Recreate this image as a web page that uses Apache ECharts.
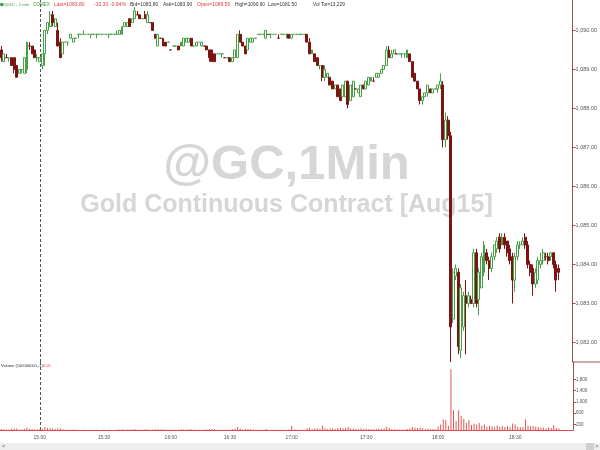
<!DOCTYPE html>
<html><head><meta charset="utf-8">
<script src="https://cdn.jsdelivr.net/npm/echarts@6/dist/echarts.min.js"></script>
<style>html,body{margin:0;padding:0;background:#fff}#c{width:600px;height:450px}</style>
</head><body><div id="c"></div>
<script>
// ---- data (1-minute bars, times with trades only) ----
const times = [
 '14:45','14:46','14:47','14:48','14:49','14:50','14:51','14:52','14:53','14:54','14:55','14:56','14:57','14:58','14:59',
 '15:00','15:01','15:02','15:03','15:04','15:05','15:06','15:07','15:08','15:09','15:10','15:11','15:12','15:13','15:14',
 '15:15','15:17','15:18','15:20','15:22','15:23','15:25','15:26','15:28','15:29',
 '15:30','15:32','15:34','15:35','15:37','15:39','15:40','15:41','15:42','15:43','15:44','15:45','15:46','15:47','15:48','15:49',
 '15:50','15:51','15:52','15:53','15:54','15:55','15:56','15:57','15:58','15:59',
 '16:00','16:01','16:02','16:03','16:05','16:06','16:07','16:09','16:10','16:11','16:12','16:14','16:15','16:16','16:18','16:19',
 '16:21','16:22','16:24','16:25','16:27','16:28','16:29',
 '16:30','16:31','16:32','16:33','16:34','16:35','16:36','16:37','16:38','16:39','16:40','16:41','16:42',
 '16:44','16:45','16:47','16:48','16:50','16:51','16:53','16:54','16:56','16:58','16:59',
 '17:00','17:01','17:02','17:04','17:05','17:06','17:07','17:08','17:09','17:10','17:11','17:12','17:13','17:14','17:15','17:16',
 '17:17','17:18','17:19','17:20','17:21','17:22','17:23','17:24','17:25','17:26','17:27','17:28','17:29',
 '17:30','17:31','17:32','17:33','17:34','17:35','17:36','17:37','17:38','17:39','17:40','17:41','17:42','17:43',
 '17:45','17:46','17:48','17:49','17:50','17:51','17:52','17:53','17:54','17:55','17:56','17:57','17:58','17:59',
 '18:00','18:01','18:02','18:03','18:04','18:05','18:06','18:07','18:08','18:09','18:10','18:11','18:12','18:13','18:14','18:15',
 '18:16','18:17','18:18','18:19','18:20','18:21','18:22','18:23','18:24','18:25','18:26','18:27','18:28','18:29',
 '18:30','18:31','18:32','18:33','18:34','18:35','18:36','18:37','18:38','18:39','18:40','18:41','18:42','18:43','18:44','18:45',
 '18:46','18:47'
];
// [open, close, low, high]
const ohlc = [
 [1089.5,1089.3,1089.2,1089.6],[1089.2,1089.4,1089.2,1089.4],[1089.3,1089.3,1089.3,1089.4],[1089.3,1089.3,1089.2,1089.3],
 [1089.3,1089.1,1089.1,1089.3],[1089.3,1089.0,1088.9,1089.3],[1089.1,1088.8,1088.8,1089.1],[1088.9,1089.0,1088.9,1089.0],
 [1089.0,1089.0,1088.9,1089.0],[1088.9,1089.3,1088.9,1089.3],[1089.0,1089.7,1088.9,1089.7],[1089.6,1089.6,1089.5,1089.7],
 [1089.6,1089.4,1089.4,1089.6],[1089.5,1089.3,1089.3,1089.5],[1089.3,1089.3,1089.2,1089.4],
 [1089.2,1089.3,1089.2,1089.3],[1089.1,1089.4,1089.0,1089.4],[1089.4,1090.0,1089.1,1090.0],[1090.0,1090.2,1089.9,1090.2],
 [1090.1,1090.4,1090.1,1090.5],[1090.4,1090.2,1090.1,1090.5],[1090.1,1090.3,1090.1,1090.3],[1090.0,1089.6,1089.6,1090.2],
 [1089.7,1089.3,1089.3,1089.8],[1089.4,1089.7,1089.4,1089.7],[1089.7,1089.7,1089.7,1089.7],[1089.7,1089.7,1089.6,1089.7],
 [1089.8,1089.9,1089.8,1089.9],[1089.7,1089.8,1089.7,1089.8],[1089.8,1089.8,1089.8,1089.8],
 [1089.9,1089.9,1089.8,1089.9],[1089.9,1089.9,1089.9,1089.9],[1089.9,1089.9,1089.9,1090.0],[1089.9,1089.9,1089.9,1089.9],
 [1089.9,1089.9,1089.9,1089.9],[1089.9,1089.9,1089.8,1089.9],[1089.9,1089.9,1089.9,1089.9],[1089.9,1089.9,1089.8,1089.9],
 [1089.9,1089.9,1089.9,1089.9],[1089.9,1089.9,1089.9,1089.9],[1089.9,1089.9,1089.9,1089.9],[1089.9,1089.9,1089.9,1089.9],
 [1089.9,1089.9,1089.8,1089.9],[1089.9,1089.9,1089.9,1089.9],[1089.9,1089.9,1089.9,1089.9],[1089.9,1089.9,1089.9,1090.0],
 [1089.9,1090.0,1089.9,1090.0],[1089.9,1090.1,1089.9,1090.1],[1090.1,1090.2,1090.1,1090.2],[1090.1,1090.2,1090.1,1090.2],
 [1090.3,1090.1,1090.1,1090.3],[1090.2,1090.3,1090.2,1090.3],[1090.3,1090.5,1090.3,1090.6],[1090.4,1090.4,1090.4,1090.5],
 [1090.4,1090.3,1090.3,1090.4],[1090.3,1090.3,1090.3,1090.3],[1090.4,1090.3,1090.3,1090.5],[1090.2,1090.4,1090.2,1090.5],
 [1090.2,1090.2,1090.2,1090.2],[1090.2,1090.0,1090.0,1090.2],[1089.9,1089.8,1089.8,1089.9],[1089.6,1089.9,1089.6,1089.9],
 [1089.8,1089.8,1089.8,1089.8],[1089.8,1089.6,1089.6,1089.8],[1089.7,1089.6,1089.6,1089.7],[1089.7,1089.7,1089.7,1089.7],
 [1089.5,1089.5,1089.5,1089.5],[1089.6,1089.6,1089.6,1089.6],[1089.6,1089.6,1089.6,1089.6],[1089.6,1089.5,1089.5,1089.6],
 [1089.6,1089.7,1089.6,1089.7],[1089.6,1089.8,1089.6,1089.8],[1089.7,1089.8,1089.7,1089.8],[1089.7,1089.8,1089.7,1089.8],
 [1089.8,1089.6,1089.6,1089.8],[1089.6,1089.6,1089.6,1089.6],[1089.6,1089.7,1089.6,1089.7],[1089.7,1089.7,1089.7,1089.7],
 [1089.6,1089.7,1089.6,1089.7],[1089.6,1089.6,1089.6,1089.6],[1089.6,1089.5,1089.5,1089.6],[1089.5,1089.3,1089.2,1089.5],
 [1089.5,1089.2,1089.2,1089.5],[1089.4,1089.2,1089.2,1089.4],[1089.4,1089.4,1089.4,1089.4],[1089.4,1089.4,1089.4,1089.4],
 [1089.4,1089.4,1089.3,1089.4],[1089.3,1089.3,1089.3,1089.3],[1089.3,1089.3,1089.3,1089.3],
 [1089.3,1089.2,1089.2,1089.3],[1089.2,1089.3,1089.2,1089.3],[1089.3,1089.5,1089.3,1089.5],[1089.3,1089.9,1089.3,1089.9],
 [1089.9,1089.7,1089.7,1090.0],[1089.7,1089.6,1089.6,1089.7],[1089.6,1089.4,1089.4,1089.6],[1089.5,1089.8,1089.5,1089.8],
 [1089.7,1089.8,1089.7,1089.8],[1089.7,1089.8,1089.7,1089.8],[1089.8,1089.8,1089.8,1089.8],[1089.9,1089.9,1089.9,1089.9],
 [1089.9,1089.9,1089.9,1089.9],[1089.9,1089.9,1089.9,1089.9],[1089.8,1090.0,1089.8,1090.0],[1089.9,1089.9,1089.9,1089.9],
 [1089.9,1089.9,1089.8,1089.9],[1089.9,1089.9,1089.9,1089.9],[1089.9,1089.9,1089.9,1089.9],[1089.8,1089.8,1089.8,1089.9],
 [1089.9,1089.9,1089.9,1089.9],[1089.9,1089.9,1089.9,1089.9],[1089.9,1089.9,1089.8,1089.9],[1089.9,1089.8,1089.8,1089.9],
 [1089.8,1089.9,1089.8,1089.9],[1089.9,1089.9,1089.9,1089.9],[1089.9,1089.9,1089.9,1089.9],[1089.9,1089.9,1089.9,1089.9],
 [1089.9,1089.9,1089.9,1089.9],[1089.9,1089.9,1089.9,1089.9],[1089.9,1089.7,1089.7,1089.9],[1089.7,1089.4,1089.4,1089.8],
 [1089.4,1089.5,1089.4,1089.5],[1089.4,1089.2,1089.2,1089.4],[1089.3,1089.1,1089.1,1089.3],[1089.1,1089.1,1089.0,1089.1],
 [1089.1,1088.8,1088.7,1089.1],[1088.8,1089.0,1088.7,1089.1],[1088.8,1088.9,1088.8,1088.9],[1088.8,1088.6,1088.6,1088.8],
 [1088.7,1088.5,1088.5,1088.7],[1088.5,1088.6,1088.5,1088.6],[1088.6,1088.3,1088.3,1088.6],[1088.5,1088.2,1088.2,1088.5],
 [1088.3,1088.6,1088.3,1088.6],[1088.3,1088.7,1088.3,1088.7],[1088.7,1088.1,1088.0,1088.7],[1088.2,1088.6,1088.2,1088.6],
 [1088.3,1088.7,1088.3,1088.7],[1088.5,1088.5,1088.5,1088.5],[1088.4,1088.5,1088.4,1088.5],[1088.3,1088.6,1088.3,1088.6],
 [1088.6,1088.5,1088.5,1088.6],
 [1088.5,1088.7,1088.5,1088.7],[1088.6,1088.8,1088.6,1088.8],[1088.7,1088.8,1088.7,1088.8],[1088.7,1088.7,1088.7,1088.8],
 [1088.8,1088.9,1088.8,1088.9],[1088.8,1088.9,1088.8,1088.9],[1088.9,1089.0,1088.9,1089.0],[1089.0,1089.1,1089.0,1089.1],
 [1089.1,1089.5,1089.1,1089.6],[1089.5,1089.3,1089.3,1089.6],[1089.3,1089.4,1089.3,1089.5],[1089.4,1089.5,1089.4,1089.5],
 [1089.4,1089.4,1089.4,1089.4],[1089.4,1089.4,1089.4,1089.4],[1089.4,1089.4,1089.3,1089.4],[1089.4,1089.4,1089.3,1089.4],
 [1089.3,1089.5,1089.3,1089.5],[1089.4,1089.2,1089.2,1089.4],[1089.2,1088.8,1088.8,1089.2],[1088.9,1088.7,1088.7,1088.9],
 [1088.7,1088.5,1088.5,1088.7],[1088.5,1088.2,1088.1,1088.5],[1088.2,1088.3,1088.1,1088.3],[1088.3,1088.4,1088.3,1088.4],
 [1088.4,1088.6,1088.3,1088.6],[1088.5,1088.4,1088.4,1088.5],[1088.4,1088.5,1088.4,1088.5],[1088.5,1088.5,1088.5,1088.5],
 [1088.5,1088.6,1088.4,1088.6],[1088.6,1088.7,1088.5,1088.9],[1088.6,1087.2,1087.0,1088.7],[1087.2,1087.7,1087.0,1087.9],
 [1087.7,1087.3,1087.2,1087.8],[1087.3,1082.4,1081.5,1087.4],[1082.6,1083.8,1082.5,1083.9],[1083.7,1083.9,1083.6,1084.0],
 [1083.8,1081.9,1081.7,1083.9],[1081.8,1083.4,1081.6,1083.5],[1082.4,1083.2,1082.3,1083.3],[1083.2,1083.0,1081.7,1083.6],
 [1083.0,1083.2,1082.9,1083.3],[1083.1,1083.0,1083.0,1083.2],[1083.0,1084.3,1082.9,1084.4],[1084.3,1083.0,1082.9,1084.4],
 [1083.1,1083.8,1082.7,1083.9],[1083.4,1084.2,1083.4,1084.3],[1083.8,1084.5,1083.7,1084.6],[1084.3,1084.1,1084.0,1084.4],
 [1084.1,1083.9,1083.6,1084.2],[1083.9,1084.2,1083.8,1084.3],[1084.2,1084.5,1084.1,1084.5],[1084.4,1084.6,1084.3,1084.7],
 [1084.7,1084.4,1084.3,1084.8],[1084.5,1084.7,1084.5,1084.8],[1084.7,1084.5,1084.4,1084.8],[1084.6,1084.3,1084.2,1084.6],
 [1084.4,1084.1,1084.0,1084.5],[1084.2,1083.6,1083.0,1084.3],
 [1083.6,1084.2,1083.3,1084.3],[1084.2,1084.5,1084.1,1084.6],[1084.5,1084.5,1084.4,1084.6],[1084.5,1084.6,1084.5,1084.7],
 [1084.7,1084.5,1084.4,1084.8],[1084.5,1084.0,1083.9,1084.6],[1084.0,1083.8,1083.7,1084.1],[1083.9,1083.5,1083.2,1084.0],
 [1083.5,1083.8,1083.4,1083.9],[1083.6,1084.1,1083.5,1084.2],[1084.0,1084.1,1083.9,1084.3],[1084.1,1084.3,1084.0,1084.4],
 [1084.2,1084.2,1084.1,1084.3],[1084.2,1084.1,1084.0,1084.3],[1084.2,1084.3,1084.1,1084.3],[1084.3,1084.0,1083.9,1084.3],
 [1084.0,1083.6,1083.3,1084.1],[1083.9,1083.8,1083.6,1084.0]
];
const volumes = [
 40,25,15,20,45,60,50,30,20,45,80,35,40,30,20,
 30,45,110,70,60,50,35,60,55,30,15,10,15,20,10,
 5,3,6,4,3,5,3,8,3,4,5,3,6,3,4,5,
 20,25,15,20,25,15,40,20,15,10,25,30,10,20,25,35,15,25,20,10,
 15,10,10,20,25,30,20,25,30,15,10,20,10,15,20,40,35,30,10,8,10,8,6,
 20,25,60,110,50,30,35,40,25,20,10,8,10,8,40,8,6,10,6,8,10,8,10,20,
 140,20,10,10,8,10,60,80,30,50,60,40,150,70,40,50,60,40,70,80,60,70,110,60,50,40,30,50,40,
 50,40,35,30,40,50,45,60,120,70,40,30,20,15,15,20,40,60,110,80,70,90,60,40,50,40,35,30,
 120,200,380,360,150,2160,700,320,700,500,400,260,350,180,220,200,250,150,200,120,
 150,130,100,160,120,140,110,130,100,230,200,120,100,110,380,150,130,140,120,100,
 90,80,60,100,70,180,80,60
];
const priceTicks = [1082,1083,1084,1085,1086,1087,1088,1089,1090];
const volumeTicks = [200,600,1000,1400,1800];
const timeLabels = ['15:00','15:30','16:00','16:30','17:00','17:30','18:00','18:30'];
const sessionStart = '15:00';
const lastPrice = 1083.80;
const lastVolume = 0;

const fmt = (v, d) => v.toLocaleString('en-US', {minimumFractionDigits: d, maximumFractionDigits: d});
const AXIS = '#a05252';
const FONT = '"Liberation Sans", Arial, sans-serif';

function txt(x, y, text, size, fill) {
  return {type: 'text', x: x, y: y, silent: true,
          style: {text: text, fontSize: size, fontFamily: FONT, fill: fill, verticalAlign: 'middle', align: 'left'}};
}

const chart = echarts.init(document.getElementById('c'), null, {renderer: 'canvas'});
chart.setOption({
  animation: false,
  backgroundColor: '#ffffff',
  grid: [
    {left: 0, right: 27, top: 0, height: 362},
    {left: 0, right: 27, top: 362, height: 68}
  ],
  xAxis: [
    {type: 'category', gridIndex: 0, data: times, boundaryGap: true, max: times.length + 4,
     axisLine: {show: false}, axisTick: {show: false}, axisLabel: {show: false}, splitLine: {show: false}},
    {type: 'category', gridIndex: 1, data: times, boundaryGap: true, max: times.length + 4,
     axisLine: {show: true, lineStyle: {color: '#e04a4a', width: 1}},
     axisTick: {show: false}, splitLine: {show: false},
     axisLabel: {interval: (i, v) => timeLabels.includes(v), fontSize: 5, color: '#555', margin: 5, fontFamily: FONT}}
  ],
  yAxis: [
    {type: 'value', gridIndex: 0, position: 'right', min: 1081.5, max: 1090.78, scale: true,
     splitLine: {show: false},
     axisLine: {show: true, lineStyle: {color: AXIS, width: 1}},
     axisTick: {show: true, length: 3, customValues: priceTicks, lineStyle: {color: AXIS}},
     axisLabel: {customValues: priceTicks, formatter: v => fmt(v, 2), fontSize: 5.5, color: '#555', margin: 3, fontFamily: FONT}},
    {type: 'value', gridIndex: 1, position: 'right', min: 0, max: 2420,
     splitLine: {show: false},
     axisLine: {show: true, lineStyle: {color: AXIS, width: 1}},
     axisTick: {show: true, length: 3, customValues: volumeTicks, lineStyle: {color: AXIS}},
     axisLabel: {customValues: volumeTicks, formatter: v => fmt(v, 0), fontSize: 4.5, color: '#555', margin: 3, fontFamily: FONT}}
  ],
  series: [
    {type: 'candlestick', name: '@GC', xAxisIndex: 0, yAxisIndex: 0, data: ohlc, barWidth: 2.4, z: 5,
     itemStyle: {color: '#ffffff', color0: '#7d1414', borderColor: '#46a046', borderColor0: '#7d1414', borderWidth: 1},
     markLine: {symbol: ['none', 'none'], silent: true, animation: false,
       data: [
         {xAxis: sessionStart, lineStyle: {type: [3, 2], color: '#555', width: 1}, label: {show: false}},
         {yAxis: lastPrice, lineStyle: {opacity: 0},
          label: {show: true, position: 'end', distance: 0, formatter: fmt(lastPrice, 2), color: '#fff',
                  backgroundColor: '#a52020', fontSize: 5.5, padding: [1, 3, 1, 3], fontFamily: FONT}}
       ]}},
    {type: 'bar', name: 'Volume', xAxisIndex: 1, yAxisIndex: 1, data: volumes, barWidth: 1, z: 4,
     itemStyle: {color: '#e35454'},
     markLine: {symbol: ['none', 'none'], silent: true, animation: false,
       data: [
         {xAxis: sessionStart, lineStyle: {type: [3, 2], color: '#555', width: 1}, label: {show: false}},
         {yAxis: lastVolume, lineStyle: {opacity: 0},
          label: {show: true, position: 'end', distance: 0, formatter: String(lastVolume), color: '#fff',
                  backgroundColor: '#e8261f', fontSize: 5, width: 21, padding: [1, 3, 1, 3], fontFamily: FONT}}
       ]}}
  ],
  graphic: [
    {type: 'text', z: -10, silent: true, x: 286.5, y: 165,
     style: {text: '@GC,1Min', fontSize: 49, fontWeight: 'bold', fontFamily: FONT, fill: '#d6d6d6', align: 'center', verticalAlign: 'middle'}},
    {type: 'text', z: -10, silent: true, x: 286.5, y: 205,
     style: {text: 'Gold Continuous Contract [Aug15]', fontSize: 25, fontWeight: 'bold', fontFamily: FONT, fill: '#d6d6d6', align: 'center', verticalAlign: 'middle'}},
    {type: 'circle', silent: true, shape: {cx: 1.8, cy: 4.6, r: 1.8}, style: {fill: '#3c9c3c'}},
    txt(4, 4.8, '@GC - 1 min', 4.3, '#3c9c3c'),
    txt(33, 4.8, 'COMEX', 4.6, '#3c9c3c'),
    txt(54, 4.8, 'Last=1083.80', 5, '#e03a3a'),
    txt(94, 4.8, '-10.30', 5, '#e03a3a'),
    txt(110, 4.8, '-0.94%', 5, '#e03a3a'),
    txt(130, 4.8, 'Bid=1083.80', 5, '#333'),
    txt(163, 4.8, 'Ask=1083.90', 5, '#333'),
    txt(197, 4.8, 'Open=1089.50', 5, '#e03a3a'),
    txt(235, 4.8, 'High=1090.60', 4.8, '#333'),
    txt(268, 4.8, 'Low=1081.50', 4.8, '#333'),
    txt(313, 4.8, 'Vol Tot=13,229', 4.8, '#333'),
    txt(1, 365.5, 'Volume (100000000,-1)', 4, '#333'),
    txt(43, 365.5, '0.00', 4, '#e03a3a'),
    {type: 'line', silent: true, shape: {x1: 573, y1: 362, x2: 600, y2: 362}, style: {stroke: AXIS, lineWidth: 1}},
    {type: 'rect', silent: true, shape: {x: 0, y: 443, width: 600, height: 7}, style: {fill: '#eeeeee'}},
    {type: 'rect', silent: true, shape: {x: 586, y: 443, width: 8, height: 7}, style: {fill: '#cfcfcf'}},
    txt(2, 446.5, '<', 6, '#555'),
    txt(595, 446.5, '>', 6, '#555')
  ]
});
</script>
</body></html>
